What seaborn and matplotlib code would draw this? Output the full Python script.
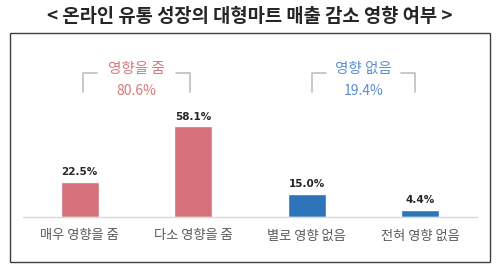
import matplotlib
matplotlib.use("Agg")
import matplotlib.pyplot as plt
import seaborn as sns
import pandas as pd
from matplotlib.patches import Rectangle

categories = ["매우 영향을 줌", "다소 영향을 줌", "별로 영향 없음", "전혀 영향 없음"]
values = [22.5, 58.1, 15.0, 4.4]
groups = ["영향을 줌", "영향을 줌", "영향 없음", "영향 없음"]
group_labels = ["영향을 줌", "영향 없음"]
group_totals = [80.6, 19.4]
title = "< 온라인 유통 성장의 대형마트 매출 감소 영향 여부 >"

sns.set_theme(style="white")
plt.rcParams['font.family'] = ['Noto Sans CJK KR', 'DejaVu Sans']

red_bar = "#D4717A"
blue_bar = "#2E74BA"
red_txt = "#D9777E"
blue_txt = "#5A8ED6"
bracket_col = "#BFBFBF"

df = pd.DataFrame({"category": categories, "value": values, "group": groups})

fig = plt.figure(figsize=(5.0, 2.74), dpi=100)
ax = fig.add_axes([23/500, 57/274, 454/500, 156/274])

sns.barplot(data=df, x="category", y="value", hue="group",
            palette={"영향을 줌": red_bar, "영향 없음": blue_bar},
            width=0.335, dodge=False, legend=False, ax=ax, saturation=1)

ax.set_xlim(-0.5, 3.5)
ax.set_ylim(0, 100)
ax.set_xlabel("")
ax.set_ylabel("")
ax.set_yticks([])
for s in ["top", "left", "right"]:
    ax.spines[s].set_visible(False)
ax.spines["bottom"].set_color("#D9D9D9")
ax.spines["bottom"].set_linewidth(1.0)
ax.tick_params(axis="x", length=0, pad=9, labelsize=9.5, labelcolor="#595959")

for i, v in enumerate(values):
    ax.text(i, v + 3, f"{v:.1f}%", ha="center", va="bottom",
            fontsize=7.5, fontweight="bold", color="#262626",
            family=['DejaVu Sans'])

centers = [0.5, 2.5]
cols = [red_txt, blue_txt]
half = [0.47, 0.45]
for c, lab, tot, col, h in zip(centers, group_labels, group_totals, cols, half):
    ax.text(c, 95, lab, ha="center", va="center", fontsize=10.5,
            color=col, clip_on=False)
    ax.text(c, 81, f"{tot:.1f}%", ha="center", va="center", fontsize=10,
            color=col, clip_on=False)
    ax.plot([c - h, c - h, c - h + 0.12], [80, 92, 92], color=bracket_col,
            lw=1.2, clip_on=False)
    ax.plot([c + h - 0.12, c + h, c + h], [92, 92, 80], color=bracket_col,
            lw=1.2, clip_on=False)

fig.text(0.5, 1 - 17/274, title, ha="center", va="center", fontsize=13.5,
         fontweight="bold", color="#262626")

frame = Rectangle((10/500, 12/274), 480/500, 229/274, transform=fig.transFigure,
                  fill=False, edgecolor="#404040", lw=1.0)
fig.patches.append(frame)

fig.savefig("out.png", dpi=100)
